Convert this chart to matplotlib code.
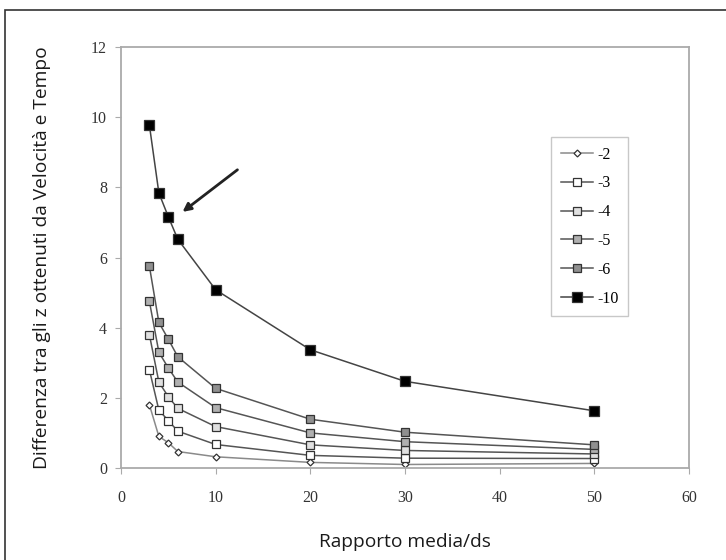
import matplotlib
matplotlib.use("Agg")
import matplotlib.pyplot as plt
from matplotlib.patches import Rectangle

# Data
x_vals = [3, 4, 5, 6, 10, 20, 30, 50]
s_m2 = [1.80, 0.90, 0.72, 0.47, 0.32, 0.16, 0.10, 0.13]
s_m3 = [2.80, 1.65, 1.35, 1.05, 0.67, 0.36, 0.28, 0.27]
s_m4 = [3.80, 2.45, 2.03, 1.70, 1.18, 0.66, 0.50, 0.40]
s_m5 = [4.75, 3.30, 2.85, 2.45, 1.72, 1.00, 0.75, 0.53]
s_m6 = [5.75, 4.15, 3.67, 3.17, 2.27, 1.39, 1.02, 0.66]
s_m10 = [9.77, 7.84, 7.16, 6.52, 5.08, 3.37, 2.47, 1.63]
labels = ["-2", "-3", "-4", "-5", "-6", "-10"]
x_ticks = [0, 10, 20, 30, 40, 50, 60]
y_ticks = [0, 2, 4, 6, 8, 10, 12]
arrow_start = (12.3, 8.5)
arrow_end = (6.5, 7.3)

series = [s_m2, s_m3, s_m4, s_m5, s_m6, s_m10]
markers = ["D", "s", "s", "s", "s", "s"]
msizes = [3.5, 6, 6, 6, 6, 6.5]
fills = ["white", "white", "#e0e0e0", "#b0b0b0", "#909090", "black"]
lcolors = ["#8a8a8a", "#555555", "#555555", "#555555", "#555555", "#444444"]

fig = plt.figure(figsize=(7.26, 5.6), dpi=100)
ax = fig.add_axes([121/726, 1-468/560, (689-121)/726, (468-47)/560])

for ys, lab, m, ms, fc, lc in zip(series, labels, markers, msizes, fills, lcolors):
    ax.plot(x_vals, ys, color=lc, lw=1.1, marker=m, markersize=ms,
            markerfacecolor=fc, markeredgecolor="#333333", markeredgewidth=0.9,
            label=lab)

ax.annotate("", xy=arrow_end, xytext=arrow_start,
            arrowprops=dict(arrowstyle="-|>", color="#222222", lw=2,
                            mutation_scale=12, shrinkA=0, shrinkB=0))

ax.set_xlim(0, 60)
ax.set_ylim(0, 12)
ax.set_xticks(x_ticks)
ax.set_yticks(y_ticks)
serif = "Liberation Serif"
for t in ax.get_xticklabels() + ax.get_yticklabels():
    t.set_family(serif)
    t.set_fontsize(11.5)
    t.set_color("#333333")
ax.tick_params(axis="x", direction="out", length=4, color="#aaaaaa", pad=12)
ax.tick_params(axis="y", direction="out", length=4, color="#aaaaaa", pad=6)
for sp in ax.spines.values():
    sp.set_color("#aaaaaa")
    sp.set_linewidth(1.3)

ax.set_xlabel("Rapporto media/ds", family="Open Sans", fontsize=13.8,
              labelpad=19, color="#1a1a1a")
ax.set_ylabel("Differenza tra gli z ottenuti da Velocità e Tempo",
              family="Open Sans", fontsize=13.8, labelpad=29, color="#1a1a1a")

leg = ax.legend(loc="upper left", bbox_to_anchor=(0.757, 0.786),
                prop={"family": serif, "size": 11.5}, frameon=True,
                fancybox=False, borderpad=0.6, labelspacing=0.8,
                handlelength=2.0, handletextpad=0.3, borderaxespad=0)
leg.get_frame().set_edgecolor("#bbbbbb")
leg.get_frame().set_linewidth(1.0)

fig.patches.append(Rectangle((5/726, -0.05), 1.2, 1.05 - 10/560,
                             transform=fig.transFigure, fill=False,
                             edgecolor="#333333", lw=1.2))

fig.savefig("out.png", dpi=100)
